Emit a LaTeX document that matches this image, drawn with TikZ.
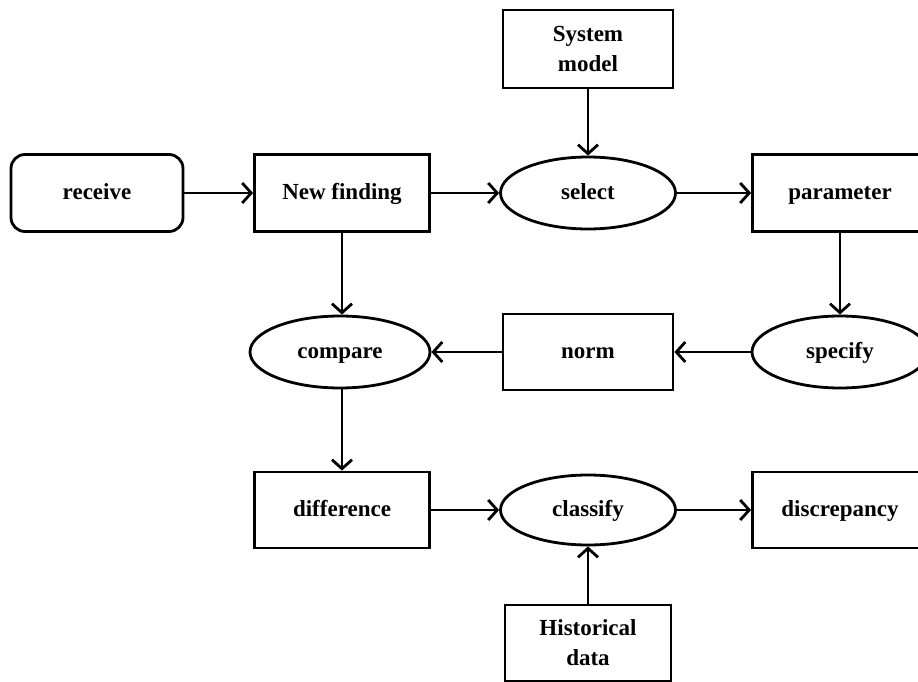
\documentclass[tikz,border=0pt]{standalone}
\usepackage{fontspec}
\setmainfont{Liberation Serif}
\usetikzlibrary{shapes.geometric,arrows.meta}
\begin{document}
\begin{tikzpicture}[x=1pt,y=-1pt,
  every node/.style={font=\fontsize{23}{30}\selectfont\bfseries, align=center, line width=2.8pt, inner sep=2pt},
  box/.style={draw, rectangle, minimum width=175pt, minimum height=77pt},
  rbox/.style={draw, rectangle, rounded corners=14pt, minimum width=172pt, minimum height=77pt, text height=15pt, text depth=3pt},
  oval/.style={draw, ellipse, minimum width=175pt, minimum height=72pt, inner sep=0pt, text height=15pt, text depth=3pt},
  one/.style={text height=15pt, text depth=3pt},
  conn/.style={line width=2.8pt, -{Straight Barb[length=9pt,width=20pt,line width=2.8pt]}}
]
\path[use as bounding box] (0,0) rectangle (918,682);
\clip (0,0) rectangle (918,682);
\fill[white] (0,0) rectangle (918,682);

\node[rbox] (receive) at (97,193) {receive};
\node[box, one] (newf) at (342,193) {New finding};
\node[oval] (select) at (588,193) {select};
\node[box, one] (param) at (840,193) {parameter};
\node[box, minimum width=170pt, minimum height=78pt] (sysm) at (588,49) {System\\model};
\node[oval, minimum width=180pt] (compare) at (340,352) {compare};
\node[box, one, minimum width=170pt, minimum height=76pt] (norm) at (588,352) {norm};
\node[oval, minimum width=176pt] (specify) at (840,352) {specify};
\node[box, one, minimum height=76pt] (diff) at (342,510) {difference};
\node[oval, minimum height=70pt] (classify) at (588,510) {classify};
\node[box, one, minimum height=76pt] (disc) at (840,510) {discrepancy};
\node[box, minimum width=166pt, minimum height=76pt] (hist) at (588,643) {Historical\\data};

\draw[conn] (receive) -- (newf);
\draw[conn] (newf) -- (select);
\draw[conn] (sysm) -- (select);
\draw[conn] (select) -- (param);
\draw[conn] (param) -- (specify);
\draw[conn] (specify) -- (norm);
\draw[conn] (norm) -- (compare);
\draw[conn] (newf) -- (compare.north -| newf);
\draw[conn] (compare.south -| newf) -- (diff);
\draw[conn] (diff) -- (classify);
\draw[conn] (hist) -- (classify);
\draw[conn] (classify) -- (disc);
\end{tikzpicture}
\end{document}
